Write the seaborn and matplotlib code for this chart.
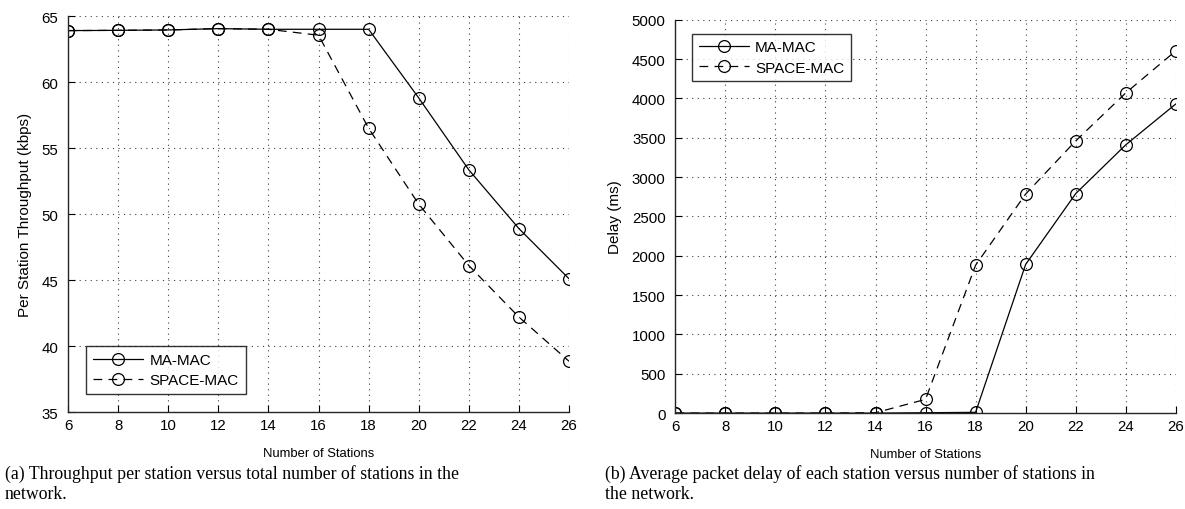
import matplotlib
matplotlib.use('Agg')
from matplotlib import pyplot as plt
import pandas as pd
import seaborn as sns

stations = [6, 8, 10, 12, 14, 16, 18, 20, 22, 24, 26]
series_names = ['MA-MAC', 'SPACE-MAC']

# (a) per station throughput (kbps)
thr_ma = [63.9, 63.92, 63.95, 64.05, 64.0, 64.0, 64.0, 58.8, 53.35, 48.9, 45.1]
thr_space = [63.9, 63.92, 63.95, 64.05, 64.0, 63.55, 56.5, 50.75, 46.1, 42.2, 38.85]

# (b) average packet delay (ms)
delay_ma = [0, 0, 0, 0, 0, 5, 10, 1890, 2790, 3410, 3930]
delay_space = [0, 0, 0, 0, 5, 175, 1880, 2785, 3460, 4070, 4605]

captions = [
    '(a) Throughput per station versus total number of stations in the\nnetwork.',
    '(b) Average packet delay of each station versus number of stations in\nthe network.',
]

sns.set_style('white')
plt.rcParams['font.family'] = ['Liberation Sans', 'DejaVu Sans']
plt.rcParams['text.color'] = 'k'
plt.rcParams['axes.labelcolor'] = 'k'

fig = plt.figure(figsize=(11.85, 5.1), dpi=100)
ax_a = fig.add_axes([0.0574, 0.190, 0.4228, 0.7765])
ax_b = fig.add_axes([0.5699, 0.188, 0.4223, 0.7712])


def draw_panel(ax, ma, space, ylim, yticks, ylabel, legend_loc):
    df = pd.DataFrame({'x': stations, 'MA-MAC': ma, 'SPACE-MAC': space})
    line_kw = dict(color='k', marker='o', markersize=8.5, markerfacecolor='none',
                   markeredgecolor='k', markeredgewidth=0.9, linewidth=0.9)
    sns.lineplot(data=df, x='x', y='MA-MAC', ax=ax, label=series_names[0],
                 linestyle='-', **line_kw)
    sns.lineplot(data=df, x='x', y='SPACE-MAC', ax=ax, label=series_names[1],
                 linestyle=(0, (7, 5)), **line_kw)
    ax.set_xlim(6, 26)
    ax.set_ylim(*ylim)
    ax.set_xticks(range(6, 27, 2))
    ax.set_yticks(yticks)
    ax.grid(True, linestyle=(0, (1, 4)), color='0.25', linewidth=0.8)
    for side in ['top', 'right']:
        ax.spines[side].set_visible(False)
    for side in ['left', 'bottom']:
        ax.spines[side].set_color('0.15')
        ax.spines[side].set_linewidth(1.0)
    ax.tick_params(direction='in', length=5, width=0.8, labelsize=10.8, colors='k',
                   left=True, bottom=True)
    ax.tick_params(axis='y', pad=7)
    ax.tick_params(axis='x', pad=4)
    ax.set_xlabel('Number of Stations', fontsize=9.4, labelpad=11)
    ax.set_ylabel(ylabel, fontsize=11, labelpad=7)
    leg = ax.legend(loc=legend_loc, fontsize=11, handlelength=3.3, numpoints=1,
                    frameon=True, fancybox=False, borderpad=0.45, labelspacing=0.4,
                    handletextpad=0.4, borderaxespad=0)
    leg.get_frame().set_edgecolor('k')
    leg.get_frame().set_linewidth(1.0)
    return leg


leg_a = draw_panel(ax_a, thr_ma, thr_space, (35, 65), range(35, 66, 5),
                   'Per Station Throughput (kbps)', 'lower left')
leg_a.set_bbox_to_anchor((0.036, 0.045), transform=ax_a.transAxes)
leg_b = draw_panel(ax_b, delay_ma, delay_space, (0, 5000), range(0, 5001, 500),
                   'Delay (ms)', 'upper left')
leg_b.set_bbox_to_anchor((0.033, 0.965), transform=ax_b.transAxes)

fig.text(5 / 1185, 1 - 465 / 510, captions[0], ha='left', va='top',
         family='Liberation Serif', fontsize=12.8, linespacing=1.22)
fig.text(605 / 1185, 1 - 465 / 510, captions[1], ha='left', va='top',
         family='Liberation Serif', fontsize=12.8, linespacing=1.22)

fig.savefig('out.png', dpi=100)
